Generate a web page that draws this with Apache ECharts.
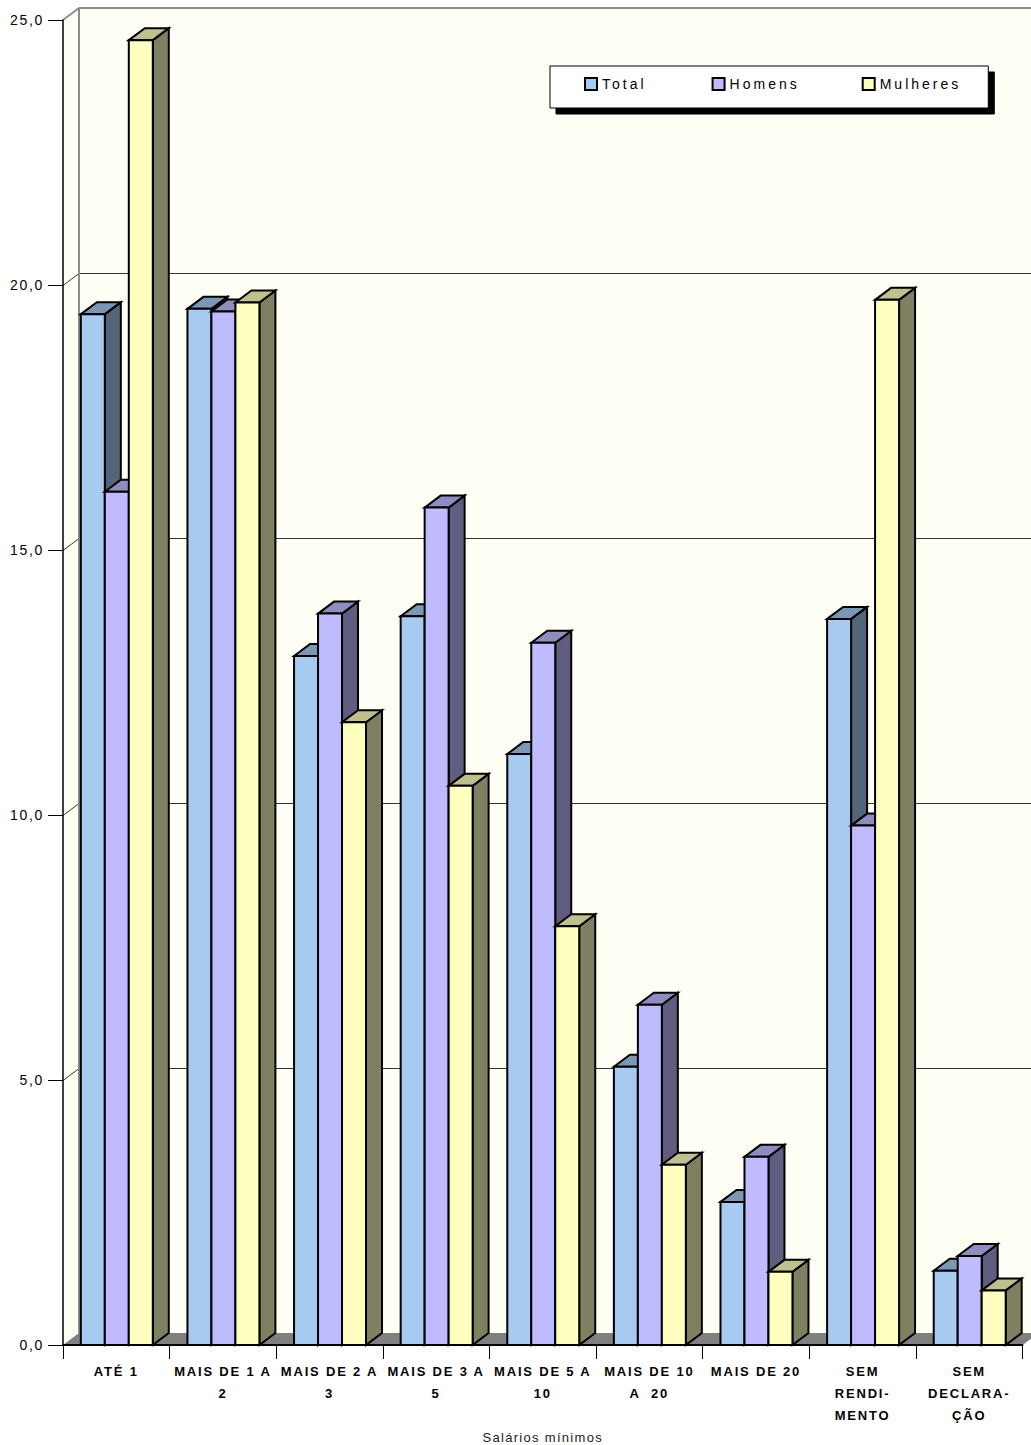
<!DOCTYPE html>
<html>
<head>
<meta charset="utf-8">
<script src="https://cdn.jsdelivr.net/npm/echarts@6/dist/echarts.min.js"></script>
<style>
html,body{margin:0;padding:0;background:#fff}
#chart{width:1031px;height:1445px}
#chart text{letter-spacing:1.3px}
#chart text[fill="#010101"]{letter-spacing:3px}
#chart text[fill="#020202"]{letter-spacing:1.7px}
#chart text[fill="#030303"]{letter-spacing:1.8px}
</style>
</head>
<body>
<div id="chart"></div>
<script>
var categories = ['ATÉ 1','MAIS DE 1 A\n2','MAIS DE 2 A\n3','MAIS DE 3 A\n5','MAIS DE 5 A\n10','MAIS DE 10\nA  20','MAIS DE 20','SEM\nRENDI-\nMENTO','SEM\nDECLARA-\nÇÃO'];
var total = [19.45,19.55,13.0,13.75,11.15,5.25,2.7,13.7,1.4];
var homens = [16.1,19.5,13.8,15.8,13.25,6.42,3.55,9.8,1.68];
var mulheres = [24.62,19.67,11.75,10.55,7.9,3.4,1.38,19.72,1.03];
var gridValues = [5,10,15,20];
var seriesNames = ['Total','Homens','Mulheres'];
var seriesValues = [total,homens,mulheres];
var palette = [
  {front:'#A6CAF0',top:'#7C97B4',side:'#536578'},
  {front:'#BFBBFF',top:'#8F8CBF',side:'#5F5D80'},
  {front:'#FFFFC0',top:'#BFBF90',side:'#808060'}
];
var DX = 16, DY = -12, BAR_FRAC = 0.225;
var WALL = '#FFFFF6', FLOOR = '#808080', EDGE = '#8C8C8C', GRIDC = '#333333';

function poly(pts, fill, stroke, lw){
  return {type:'polygon', shape:{points:pts}, style:{fill:fill, stroke:stroke||null, lineWidth:lw||0, lineJoin:'miter'}};
}
function line(x1,y1,x2,y2,c,w){
  return {type:'line', shape:{x1:x1,y1:y1,x2:x2,y2:y2}, style:{stroke:c,lineWidth:w}};
}
function renderWalls(params, api){
  var band = api.size([1,0])[0];
  var x0 = api.coord([0,0])[0] - band/2;
  var x1 = api.coord([categories.length-1,0])[0] + band/2;
  var y0 = api.coord([0,0])[1];
  var yT = api.coord([0,25])[1];
  var kids = [
    poly([[x0,yT],[x0+DX,yT+DY],[x0+DX,y0+DY],[x0,y0]], WALL),
    poly([[x0+DX,yT+DY],[x1+DX,yT+DY],[x1+DX,y0+DY],[x0+DX,y0+DY]], WALL),
    poly([[x0,y0],[x0+DX,y0+DY],[x1+DX,y0+DY],[x1,y0]], FLOOR)
  ];
  gridValues.forEach(function(v){
    var y = Math.round(api.coord([0,v])[1]) + 0.5;
    kids.push(line(x0,y,x0+DX,y+DY,GRIDC,1));
    kids.push(line(x0+DX,y+DY,x1+DX,y+DY,GRIDC,1));
  });
  kids.push(line(x0,yT,x0+DX,yT+DY,EDGE,2));
  kids.push(line(x0+DX,yT+DY,x0+DX,y0+DY,EDGE,2));
  kids.push(line(x0+DX,yT+DY,x1+DX,yT+DY,EDGE,2));
  return {type:'group', children:kids};
}
function makeRender(si){
  return function(params, api){
    var p = api.coord([api.value(0), api.value(1)]);
    var base = api.coord([api.value(0), 0]);
    var band = api.size([1,0])[0];
    var w = band*BAR_FRAC;
    var l = p[0] + 0.5 + (si-1.5)*w;
    var r = l + w;
    var t = p[1], b = base[1];
    var c = palette[si];
    return {type:'group', children:[
      poly([[r,t],[r+DX,t+DY],[r+DX,b+DY],[r,b]], c.side, '#000', 2),
      poly([[l,t],[l+DX,t+DY],[r+DX,t+DY],[r,t]], c.top, '#000', 2),
      poly([[l,t],[r,t],[r,b],[l,b]], c.front, '#000', 2)
    ]};
  };
}
var series = [{
  type:'custom', name:'_walls', z:-1, silent:true, clip:false,
  renderItem:renderWalls, data:[[0,0]], encode:{x:0,y:1}
}];
seriesNames.forEach(function(n,si){
  series.push({
    type:'custom', name:n, z:2+si, silent:true, clip:false,
    renderItem:makeRender(si),
    itemStyle:{color:palette[si].front},
    encode:{x:0,y:1},
    data:seriesValues[si].map(function(v,i){return [i,v];})
  });
});
var chart = echarts.init(document.getElementById('chart'), null, {renderer:'svg'});
chart.setOption({
  animation:false,
  backgroundColor:'#ffffff',
  textStyle:{fontFamily:'"Liberation Sans", Arial, sans-serif'},
  grid:{left:63,right:8.5,top:20,bottom:100,containLabel:false,outerBoundsMode:'none'},
  legend:{
    left:550, top:66, orient:'horizontal',
    padding:[11,51,17,34], itemGap:80, itemWidth:12, itemHeight:12,
    backgroundColor:'#fff', borderColor:'#000', borderWidth:1,
    shadowColor:'#000', shadowBlur:0, shadowOffsetX:6, shadowOffsetY:6,
    textStyle:{color:'#010101', fontSize:14, fontFamily:'"Liberation Sans", Arial, sans-serif'},
    data:seriesNames.map(function(n,i){
      return {name:n, icon:'rect', itemStyle:{color:palette[i].front, borderColor:'#000', borderWidth:2}};
    })
  },
  xAxis:{
    type:'category', data:categories, boundaryGap:true,
    name:'Salários mínimos', nameLocation:'middle', nameGap:86,
    nameTextStyle:{color:'#222', fontSize:13},
    axisLine:{show:true,onZero:false,lineStyle:{color:'#000',width:2}},
    axisTick:{show:true,alignWithLabel:false,length:14,lineStyle:{color:'#000',width:1}},
    axisLabel:{interval:0,margin:15,color:'#030303',fontSize:13,fontWeight:'bold',lineHeight:22,align:'center',verticalAlign:'top'},
    splitLine:{show:false}
  },
  yAxis:{
    type:'value', min:0, max:25, interval:5,
    axisLine:{show:true,lineStyle:{color:'#000',width:1.5}},
    axisTick:{show:true,length:15,lineStyle:{color:'#000',width:1}},
    axisLabel:{margin:19,color:'#020202',fontSize:14,formatter:function(v){return v.toFixed(1).replace('.',',');}},
    splitLine:{show:false}
  },
  series:series
});
</script>
</body>
</html>
